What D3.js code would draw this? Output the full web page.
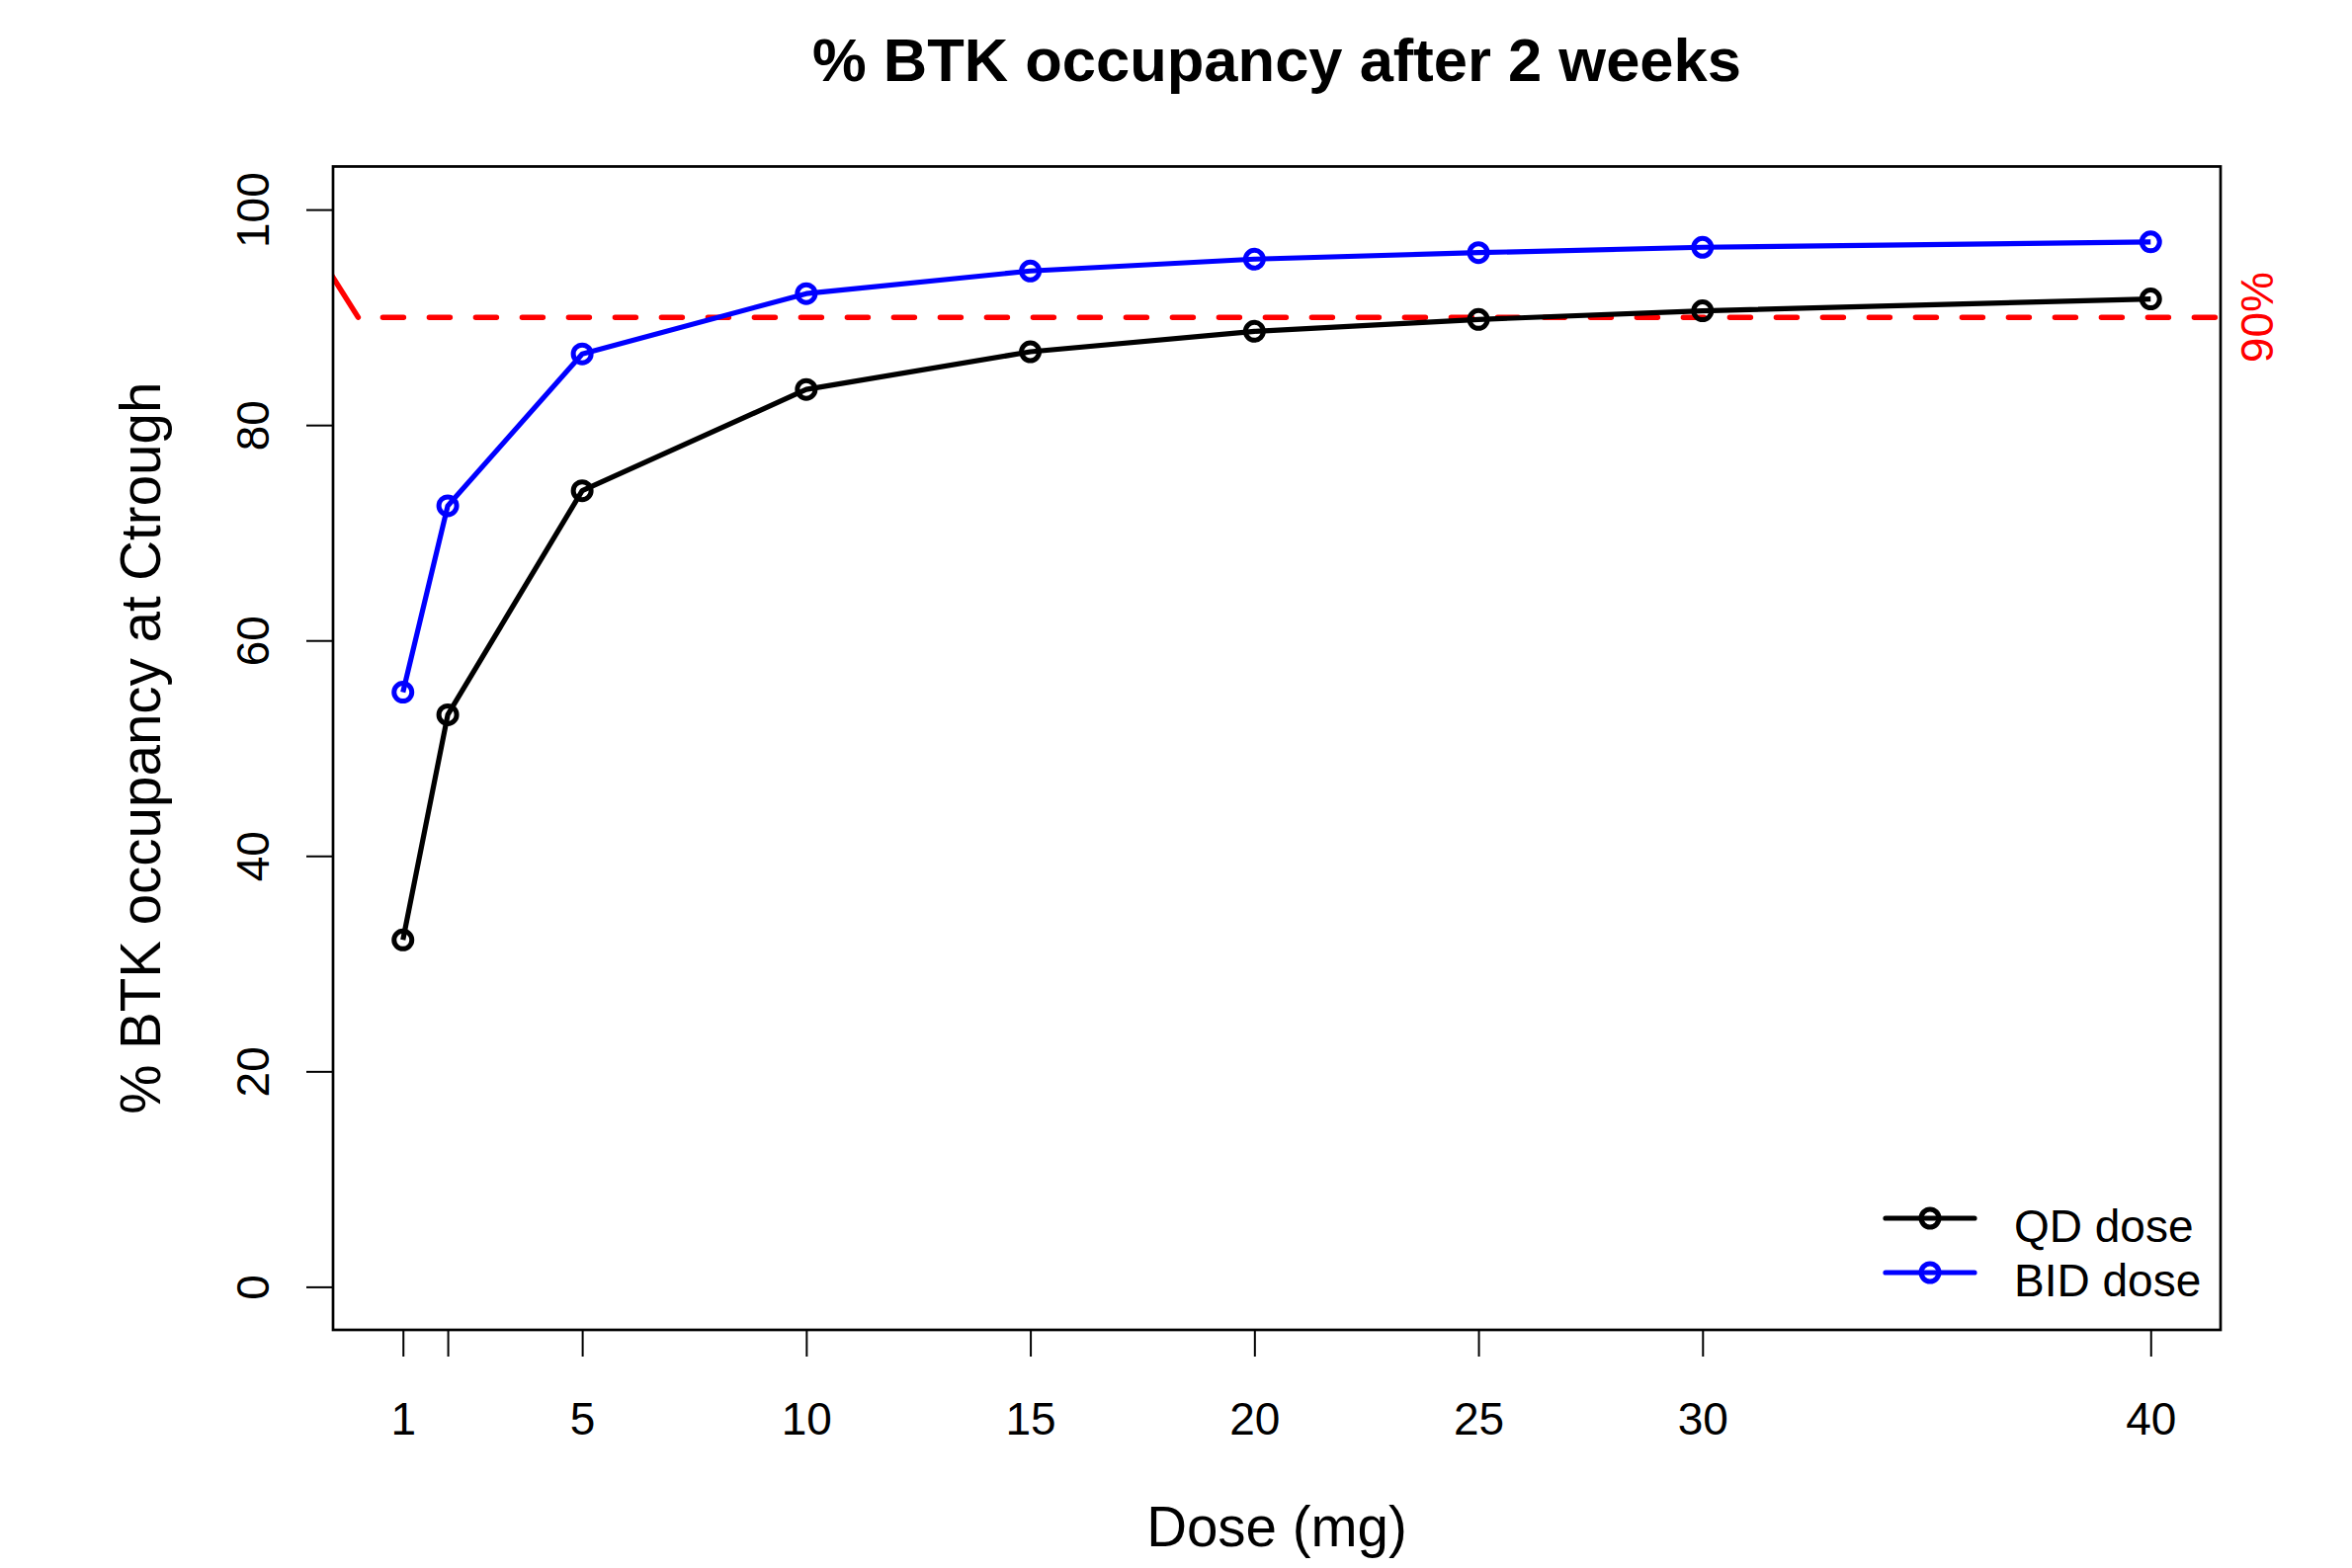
<!DOCTYPE html>
<html>
<head>
<meta charset="utf-8">
<script src="https://cdn.jsdelivr.net/npm/d3@7"></script>
<style>
  html, body { margin: 0; padding: 0; background: #fff; }
  svg { display: block; }
  text { font-family: "Liberation Sans", Arial, Helvetica, sans-serif; }
</style>
</head>
<body>
<svg id="chart" width="2380" height="1587"></svg>
<script>
// ---- data ----
const doses = [1, 2, 5, 10, 15, 20, 25, 30, 40];
const qdOccupancy = [32.2, 53.1, 73.9, 83.3, 86.8, 88.7, 89.8, 90.6, 91.7];
const bidOccupancy = [55.2, 72.5, 86.6, 92.2, 94.3, 95.4, 96.0, 96.5, 97.0];
const xTickValues = [1, 2, 5, 10, 15, 20, 25, 30, 40];
const xTickLabels = ["1", "", "5", "10", "15", "20", "25", "30", "40"];
const yTickValues = [0, 20, 40, 60, 80, 100];
const threshold = 90;
const thresholdLabel = "90%";
const redSegDose = [-1, 0];
const redSegOcc = [96.6, 90];
const seriesNames = ["QD dose", "BID dose"];
const seriesColors = ["#000000", "#0000ff"];
const titleText = "% BTK occupancy after 2 weeks";
const xLabel = "Dose (mg)";
const yLabel = "% BTK occupancy at Ctrough";

// ---- layout ----
const plot = { left: 337, right: 2247, top: 168.5, bottom: 1346 };
const svg = d3.select("#chart");

const xPad = (d3.max(doses) - d3.min(doses)) * 0.04;
const x = d3.scaleLinear()
  .domain([d3.min(doses) - xPad, d3.max(doses) + xPad])
  .range([plot.left, plot.right]);
const y = d3.scaleLinear()
  .domain([0 - 4, 100 + 4])
  .range([plot.bottom, plot.top]);

svg.append("defs").append("clipPath").attr("id", "plotclip")
  .append("rect")
  .attr("x", plot.left).attr("y", plot.top)
  .attr("width", plot.right - plot.left).attr("height", plot.bottom - plot.top);

// title
svg.append("text")
  .attr("x", (plot.left + plot.right) / 2).attr("y", 82)
  .attr("text-anchor", "middle")
  .attr("font-size", 61.5).attr("font-weight", "bold")
  .text(titleText);

// axes
const xAxis = d3.axisBottom(x)
  .tickValues(xTickValues)
  .tickFormat((d, i) => xTickLabels[i])
  .tickSize(27).tickSizeOuter(0);
const gx = svg.append("g").attr("transform", `translate(0,${plot.bottom})`).call(xAxis);
gx.select(".domain").remove();
gx.selectAll(".tick line").attr("stroke", "#000").attr("stroke-width", 2);
gx.selectAll(".tick text")
  .attr("y", 106).attr("dy", null)
  .attr("font-size", 46).attr("fill", "#000")
  .style("font-family", '"Liberation Sans", Arial, Helvetica, sans-serif');

const yAxis = d3.axisLeft(y)
  .tickValues(yTickValues)
  .tickFormat(d3.format("d"))
  .tickSize(27).tickSizeOuter(0);
const gy = svg.append("g").attr("transform", `translate(${plot.left},0)`).call(yAxis);
gy.select(".domain").remove();
gy.selectAll(".tick line").attr("stroke", "#000").attr("stroke-width", 2);
gy.selectAll(".tick text")
  .attr("x", 0).attr("dy", null)
  .attr("transform", "translate(-65,0) rotate(-90)")
  .attr("text-anchor", "middle")
  .attr("font-size", 46).attr("fill", "#000")
  .style("font-family", '"Liberation Sans", Arial, Helvetica, sans-serif');

// axis titles
svg.append("text")
  .attr("x", (plot.left + plot.right) / 2).attr("y", 1565)
  .attr("text-anchor", "middle").attr("font-size", 56.5)
  .text(xLabel);
svg.append("text")
  .attr("transform", `translate(162,${(plot.top + plot.bottom) / 2}) rotate(-90)`)
  .attr("text-anchor", "middle").attr("font-size", 56.5)
  .text(yLabel);

// red reference lines
const clipG = svg.append("g").attr("clip-path", "url(#plotclip)");
const segLine = d3.line().x(d => x(d[0])).y(d => y(d[1]));
clipG.append("path")
  .attr("d", segLine(redSegDose.map((d, i) => [d, redSegOcc[i]])))
  .attr("fill", "none").attr("stroke", "#ff0000")
  .attr("stroke-width", 5.5).attr("stroke-linecap", "round");
clipG.append("line")
  .attr("x1", x(redSegDose[redSegDose.length - 1])).attr("x2", plot.right)
  .attr("y1", y(threshold)).attr("y2", y(threshold))
  .attr("stroke", "#ff0000").attr("stroke-width", 5.5)
  .attr("stroke-linecap", "round")
  .attr("stroke-dasharray", "21 26")
  .attr("stroke-dashoffset", 22);

svg.append("text")
  .attr("transform", `translate(2300,${y(threshold)}) rotate(-90)`)
  .attr("text-anchor", "middle").attr("font-size", 46)
  .attr("fill", "#ff0000")
  .text(thresholdLabel);

// series
const series = [qdOccupancy, bidOccupancy];
const line = d3.line().x((d, i) => x(doses[i])).y(d => y(d));
series.forEach((vals, si) => {
  const g = svg.append("g");
  g.append("path")
    .attr("d", line(vals))
    .attr("fill", "none").attr("stroke", seriesColors[si])
    .attr("stroke-width", 5.2).attr("stroke-linejoin", "round");
  g.selectAll("circle").data(vals).join("circle")
    .attr("cx", (d, i) => x(doses[i])).attr("cy", d => y(d))
    .attr("r", 9)
    .attr("fill", "none").attr("stroke", seriesColors[si]).attr("stroke-width", 5);
});

// legend
const legendY = [1233, 1288];
seriesNames.forEach((name, i) => {
  const g = svg.append("g");
  g.append("line")
    .attr("x1", 1908).attr("x2", 1998)
    .attr("y1", legendY[i]).attr("y2", legendY[i])
    .attr("stroke", seriesColors[i]).attr("stroke-width", 5.2)
    .attr("stroke-linecap", "round");
  g.append("circle")
    .attr("cx", 1953).attr("cy", legendY[i]).attr("r", 9)
    .attr("fill", "none").attr("stroke", seriesColors[i]).attr("stroke-width", 5);
  g.append("text")
    .attr("x", 2038).attr("y", legendY[i] + 7).attr("dy", "0.36em")
    .attr("font-size", 46).attr("fill", "#000")
    .text(name);
});

// plot box
svg.append("rect")
  .attr("x", plot.left).attr("y", plot.top)
  .attr("width", plot.right - plot.left).attr("height", plot.bottom - plot.top)
  .attr("fill", "none").attr("stroke", "#000").attr("stroke-width", 2.7);
</script>
</body>
</html>
